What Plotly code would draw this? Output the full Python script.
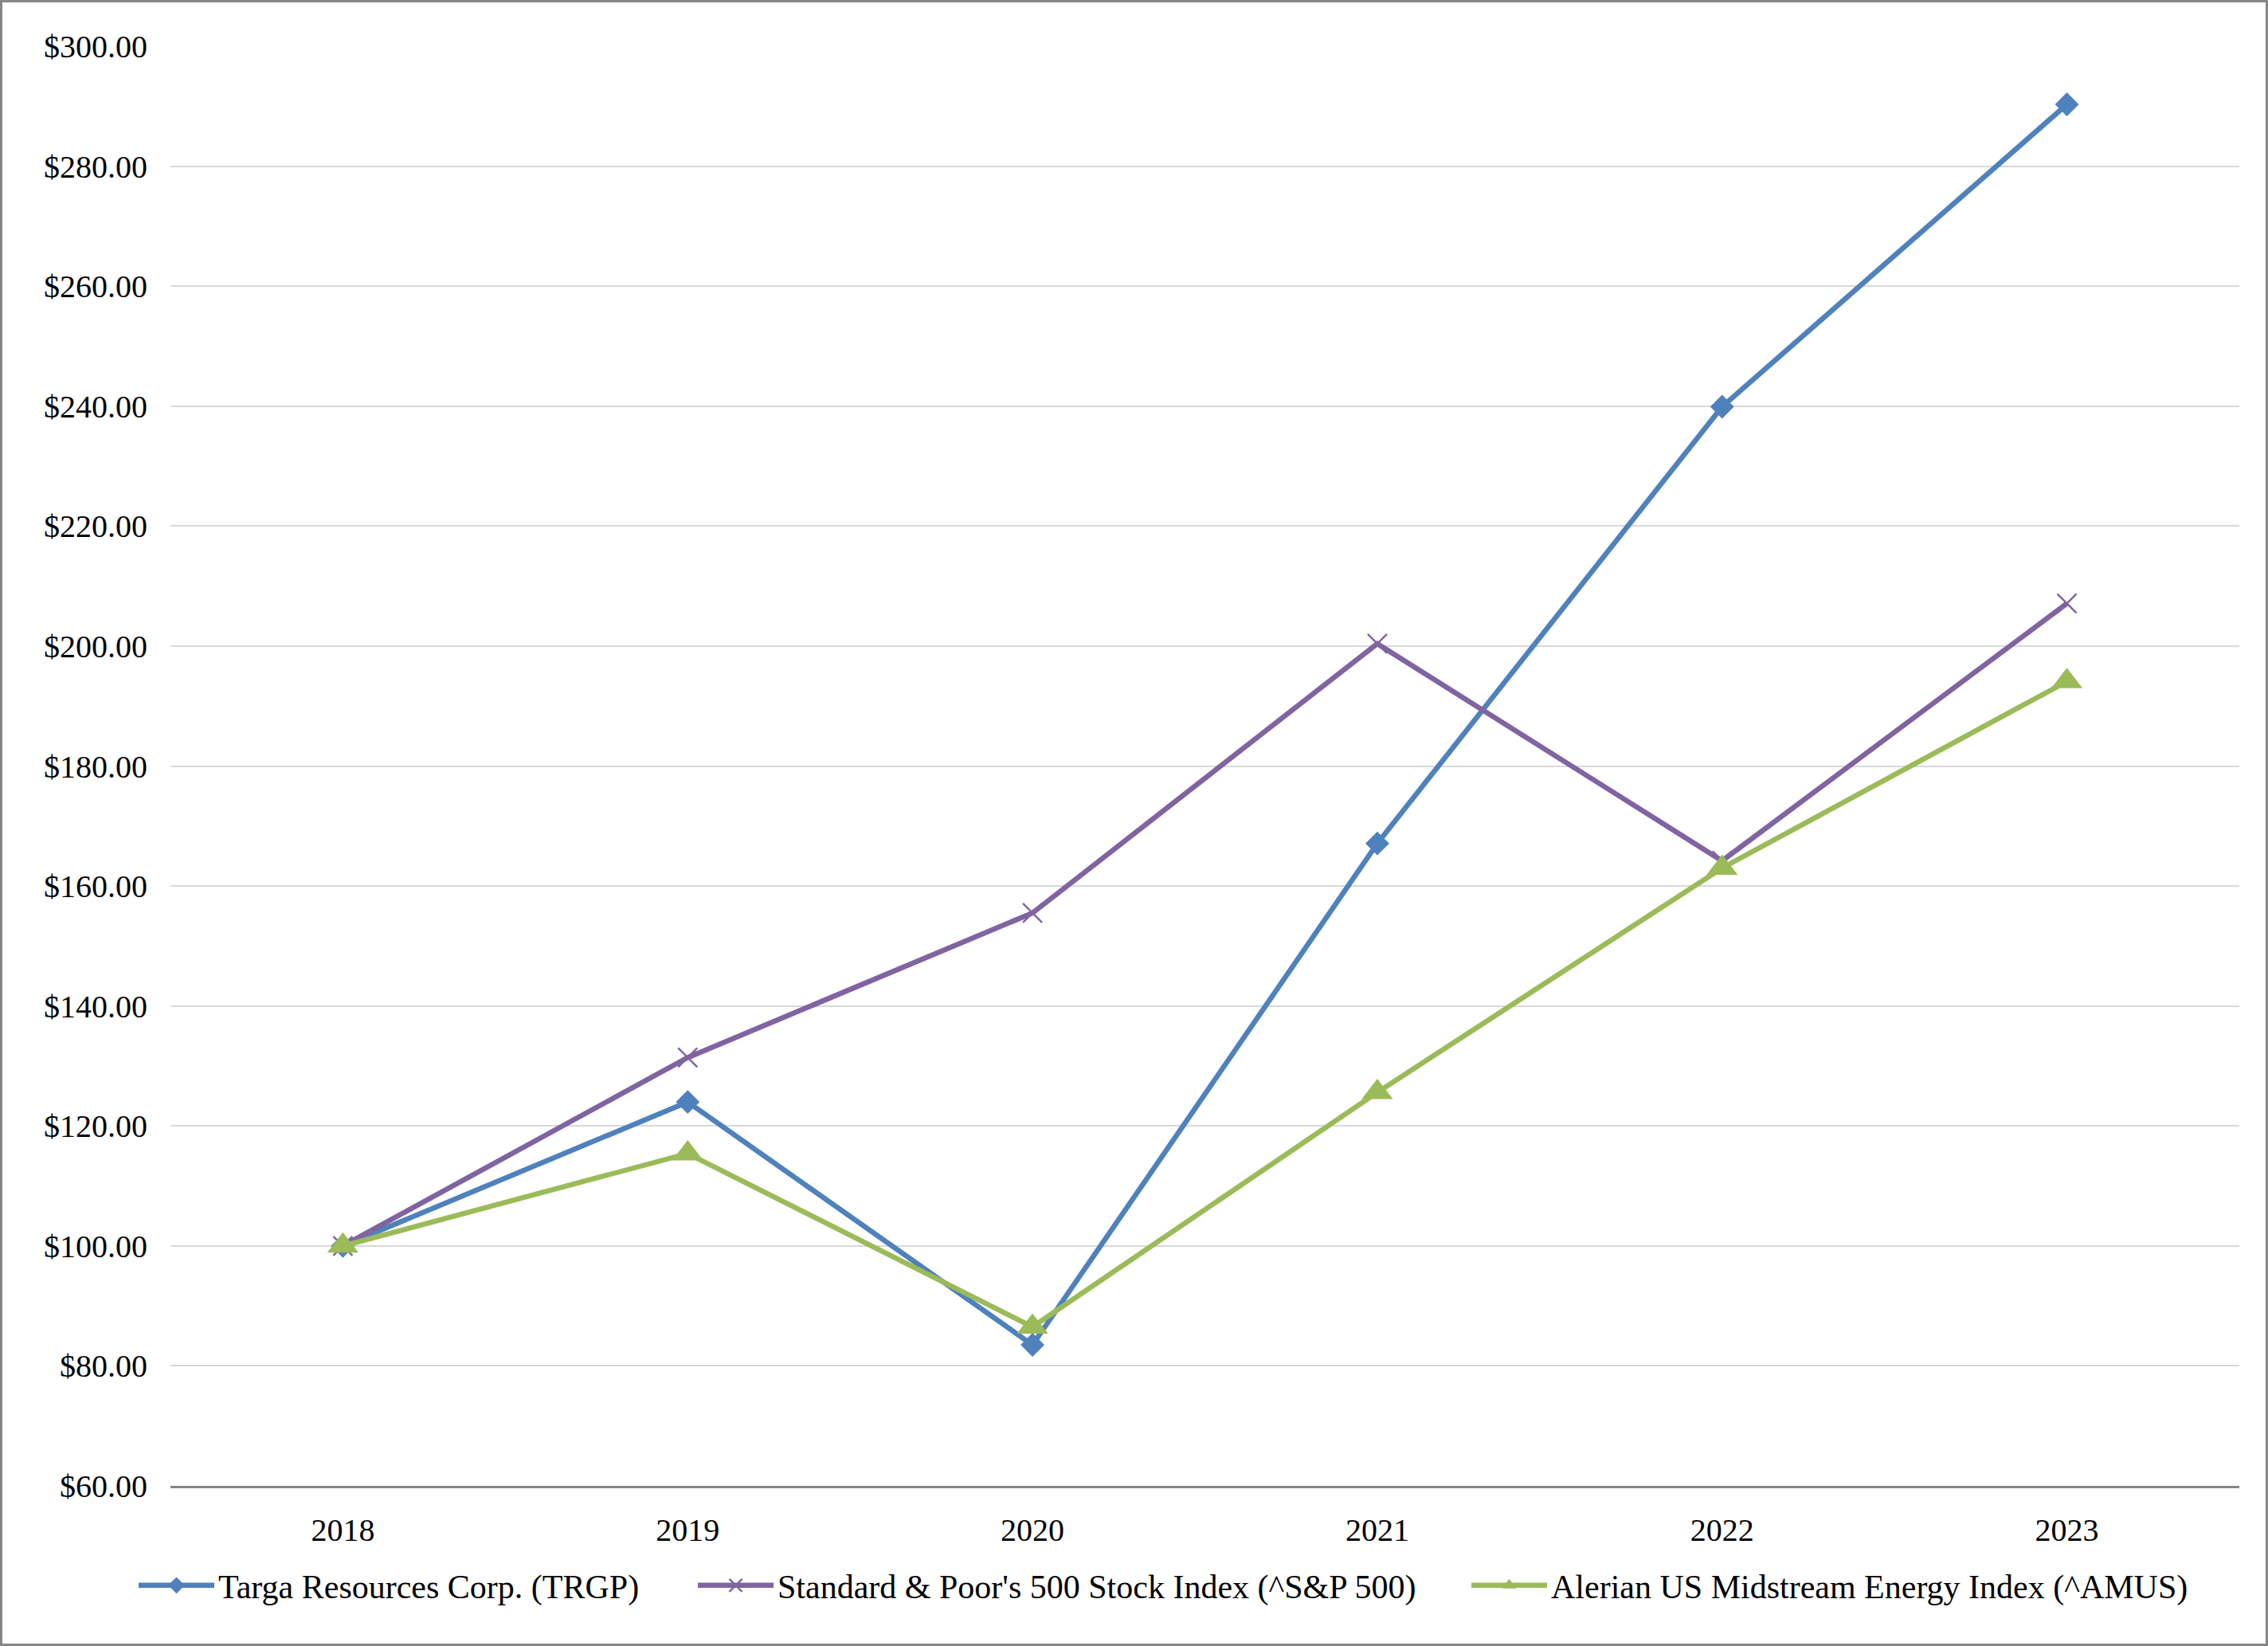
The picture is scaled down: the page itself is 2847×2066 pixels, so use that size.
import plotly.graph_objects as go

years = ["2018", "2019", "2020", "2021", "2022", "2023"]
trgp = [100.00, 124.00, 83.50, 167.10, 239.90, 290.30]
spx = [100.00, 131.40, 155.50, 200.40, 164.20, 207.10]
amus = [100.00, 115.40, 86.50, 125.60, 163.00, 194.10]

names = [
    "Targa Resources Corp. (TRGP)",
    "Standard & Poor's 500 Stock Index (^S&P 500)",
    "Alerian US Midstream Energy Index (^AMUS)",
]
colors = ["#4F81BD", "#8064A2", "#9BBB59"]

W, H = 2847, 2066
ML, MR, MT, MB = 214, 36, 58, 201
PW, PH = W - ML - MR, H - MT - MB

fig = go.Figure()
fig.add_trace(go.Scatter(
    x=years, y=trgp, name=names[0], mode="lines+markers",
    line=dict(color=colors[0], width=6.5),
    marker=dict(symbol="diamond", size=23, color=colors[0]),
    legend="legend",
))
fig.add_trace(go.Scatter(
    x=years, y=spx, name=names[1], mode="lines+markers",
    line=dict(color=colors[1], width=6.5),
    marker=dict(symbol="x-thin", size=24, color=colors[1],
                line=dict(color=colors[1], width=2.5)),
    legend="legend2",
))
fig.add_trace(go.Scatter(
    x=years, y=amus, name=names[2], mode="lines+markers",
    line=dict(color=colors[2], width=6.5),
    marker=dict(symbol="triangle-up", size=34, color=colors[2]),
    legend="legend3",
))

leg_y = -(1990 - (MT + PH)) / PH
def leg(xpix):
    return dict(
        orientation="h", x=(xpix - ML) / PW, xanchor="left",
        y=leg_y, yanchor="middle",
        font=dict(size=42), itemwidth=95,
        bgcolor="rgba(0,0,0,0)",
    )

fig.update_layout(
    width=W, height=H,
    margin=dict(l=ML, r=MR, t=MT, b=MB, pad=0),
    paper_bgcolor="white", plot_bgcolor="white",
    font=dict(family="Liberation Serif, Times New Roman, serif", size=40, color="black"),
    showlegend=True,
    legend=leg(169),
    legend2=leg(871),
    legend3=leg(1842),
    xaxis=dict(
        type="category", range=[-0.5, 5.5], showgrid=False,
        showline=True, linecolor="#868686", linewidth=3,
        ticks="", ticklabelstandoff=18, tickfont=dict(size=40),
        zeroline=False,
    ),
    yaxis=dict(
        range=[60, 300], dtick=20, tick0=60,
        tickprefix="$", tickformat=".2f",
        showgrid=True, gridcolor="#D9D9D9", gridwidth=2,
        showline=False, zeroline=False, ticks="",
        ticklabelstandoff=28, tickfont=dict(size=40),
    ),
    shapes=[dict(
        type="rect", xref="paper", yref="paper",
        x0=(1.5 - ML) / PW, x1=(W - 1.5 - ML) / PW,
        y0=-(MB - 1.5) / PH, y1=1 + (MT - 1.5) / PH,
        line=dict(color="#868686", width=3), fillcolor="rgba(0,0,0,0)",
        layer="below",
    )],
)

fig.write_html(
    "out.html",
    config={"displayModeBar": False},
    post_script="document.body.style.margin='0';document.body.style.overflow='hidden';",
)
